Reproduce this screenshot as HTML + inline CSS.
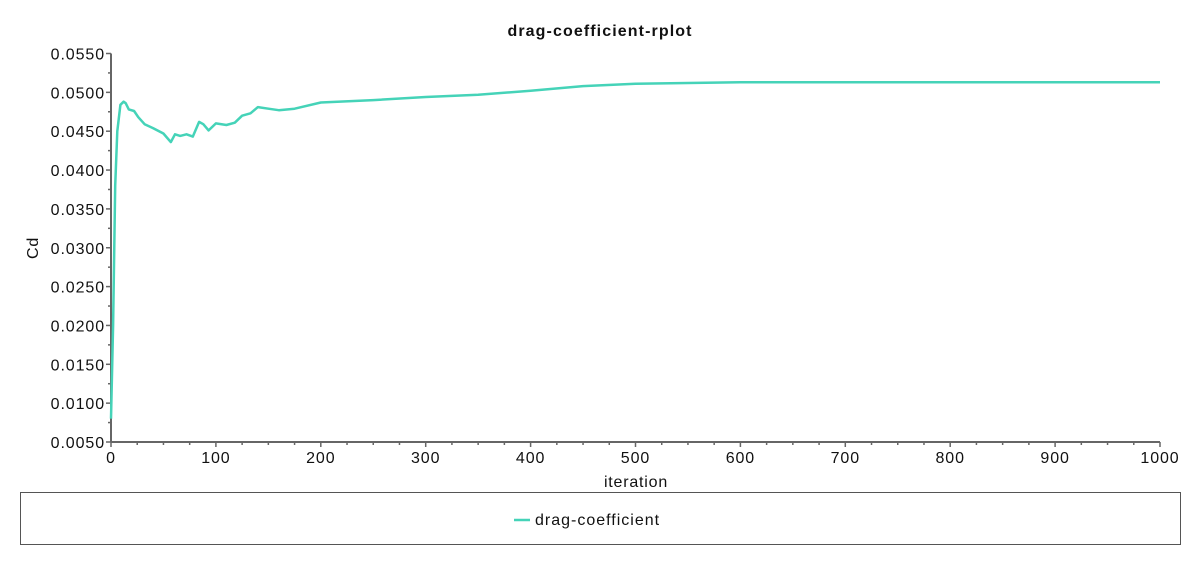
<!DOCTYPE html>
<html><head><meta charset="utf-8"><style>
body{margin:0;background:#fff;width:1201px;height:565px;overflow:hidden;font-family:"Liberation Sans",sans-serif;}
svg text{font-family:"Liberation Sans",sans-serif;fill:#111;}
</style></head><body>
<svg id="chart" width="1201" height="565" xmlns="http://www.w3.org/2000/svg">
<text x="600" y="36" text-anchor="middle" font-size="16" font-weight="bold" letter-spacing="1.1">drag-coefficient-rplot</text>
<g id="axes"></g>
<text transform="translate(38,248) rotate(-90)" text-anchor="middle" font-size="16" letter-spacing="0.8">Cd</text>
<text x="636" y="487" text-anchor="middle" font-size="16" letter-spacing="0.8">iteration</text>
<rect x="20.5" y="492.5" width="1160" height="52" fill="none" stroke="#555" stroke-width="1"/>
<g>
<line x1="514" y1="520" x2="530" y2="520" stroke="#45d3b8" stroke-width="2.5"/>
<text x="535" y="525" font-size="16" letter-spacing="1">drag-coefficient</text>
</g>
</svg>
<script>
const iterations=[0,2,4,6,9,12,14,17,22,26,32,40,50,57,61,66,72,78,84,88,93,100,110,118,125,133,140,150,160,175,200,250,300,350,400,450,500,600,700,800,1000];
const cdValues=[0.0080,0.0200,0.0380,0.0450,0.0484,0.0488,0.0486,0.0478,0.0476,0.0468,0.0459,0.0454,0.0447,0.0436,0.0446,0.0444,0.0446,0.0443,0.0462,0.0459,0.0451,0.0460,0.0458,0.0461,0.0470,0.0473,0.0481,0.0479,0.0477,0.0479,0.0487,0.0490,0.0494,0.0497,0.0502,0.0508,0.0511,0.0513,0.0513,0.0513,0.0513];
const yTicks=[0.0050,0.0100,0.0150,0.0200,0.0250,0.0300,0.0350,0.0400,0.0450,0.0500,0.0550];
const xTicks=[0,100,200,300,400,500,600,700,800,900,1000];
const X0=111,X1=1160,Y0=442,Y1=53.5;
const sx=v=>X0+(v-0)/(1000-0)*(X1-X0);
const sy=v=>Y0-(v-0.005)/(0.055-0.005)*(Y0-Y1);
const NS="http://www.w3.org/2000/svg";
const svg=document.getElementById('chart');
const axes=document.getElementById('axes');
function mk(t,a,p){const e=document.createElementNS(NS,t);for(const k in a)e.setAttribute(k,a[k]);(p||axes).appendChild(e);return e;}
const ya=mk('line',{x1:X0,y1:Y1,x2:X0,y2:Y0,stroke:'#666','stroke-width':2});


const xa=mk('line',{x1:X0,y1:Y0,x2:X1,y2:Y0,stroke:'#666','stroke-width':2});


yTicks.forEach((v,i)=>{
  const y=sy(v);
  mk('line',{x1:X0-5,y1:y,x2:X0,y2:y,stroke:'#666','stroke-width':1.5});
  if(i<yTicks.length-1){const ym=sy(v+0.0025);mk('line',{x1:X0-3,y1:ym,x2:X0,y2:ym,stroke:'#666','stroke-width':1.5});}
  const t=mk('text',{x:X0-6,y:y+6,'text-anchor':'end','font-size':16,'letter-spacing':0.9});
  t.textContent=v.toFixed(4);
  
  
});
xTicks.forEach((v,i)=>{
  const x=sx(v);
  mk('line',{x1:x,y1:Y0,x2:x,y2:Y0+5,stroke:'#666','stroke-width':1.5});
  if(i<xTicks.length-1){for(let k=1;k<4;k++){const xm=sx(v+k*25);mk('line',{x1:xm,y1:Y0,x2:xm,y2:Y0+3,stroke:'#666','stroke-width':1.5});}}
  const t=mk('text',{x:x,y:Y0+21,'text-anchor':'middle','font-size':16,'letter-spacing':0.9});
  t.textContent=String(v);
  
  
});
const d=iterations.map((it,i)=>(i?'L':'M')+sx(it).toFixed(1)+','+sy(cdValues[i]).toFixed(1)).join(' ');
const line=mk('path',{d:d,fill:'none',stroke:'#45d3b8','stroke-width':2.5,'stroke-linejoin':'round'},svg);


</script>
</body></html>
